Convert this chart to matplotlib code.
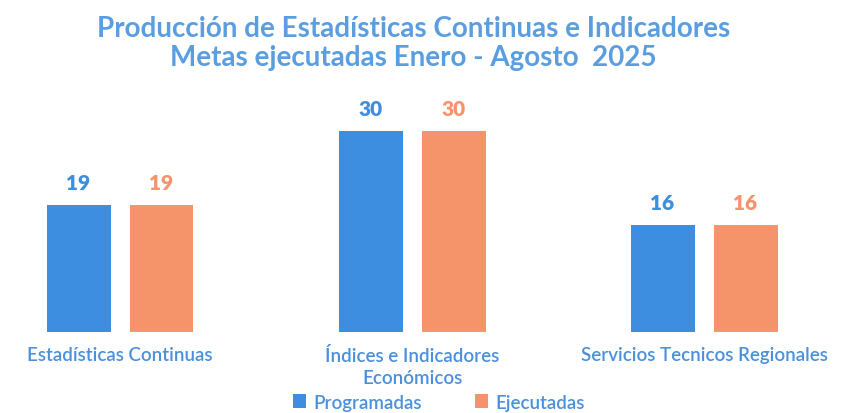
import matplotlib.pyplot as plt
import numpy as np

plt.rcParams['font.family'] = ['Lato', 'DejaVu Sans']

categorias = ['Estadísticas Continuas', 'Índices e Indicadores\nEconómicos', 'Servicios Tecnicos Regionales']
programadas = [19, 30, 16]
ejecutadas = [19, 30, 16]
series = ['Programadas', 'Ejecutadas']

azul = '#3d8de0'
naranja = '#f5936b'
texto_azul = '#4a90dc'

fig = plt.figure(figsize=(8.44, 4.14), dpi=100)
ax = fig.add_axes([0, 81 / 414, 1, 233 / 414])

x = np.arange(len(categorias))
ancho = 64 / 292
sep = 19 / 292
b1 = ax.bar(x - (ancho + sep) / 2, programadas, ancho, color=azul, label=series[0])
b2 = ax.bar(x + (ancho + sep) / 2, ejecutadas, ancho, color=naranja, label=series[1])

for barras, col in [(b1, azul), (b2, naranja)]:
    for b in barras:
        ax.annotate(str(int(b.get_height())), (b.get_x() + b.get_width() / 2, b.get_height()),
                    xytext=(0, 9), textcoords='offset points', ha='center', va='bottom',
                    fontsize=15, fontweight='heavy', color=col)

ax.set_xlim(-120 / 292, (844 - 120) / 292)
ax.set_ylim(0, 233 / 6.7)
ax.set_xticks(x)
ax.set_xticklabels(categorias, color=texto_azul, fontsize=13.5, fontweight='semibold', linespacing=1.35)
ax.tick_params(axis='x', length=0, pad=10)
ax.set_yticks([])
for s in ax.spines.values():
    s.set_visible(False)

fig.text(0.49, 0.895, 'Producción de Estadísticas Continuas e Indicadores\nMetas ejecutadas Enero - Agosto  2025',
         ha='center', va='center', fontsize=20, fontweight='bold', color='#5b9ee0', linespacing=1.15)

fig.legend(loc='lower center', bbox_to_anchor=(0.52, -0.035), ncol=2, frameon=False,
           handlelength=0.7, handleheight=0.7, columnspacing=2.8, handletextpad=0.4,
           prop={'size': 13.5, 'weight': 'semibold'}, labelcolor=texto_azul)

fig.savefig('out.png', dpi=100)
